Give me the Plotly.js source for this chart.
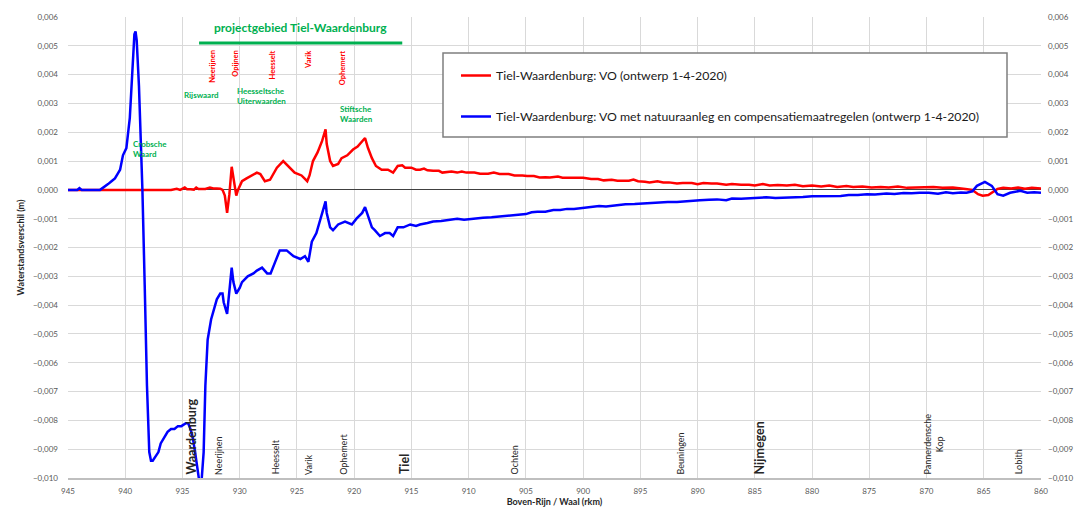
<!DOCTYPE html>
<html>
<head>
<meta charset="utf-8">
<script src="https://cdn.plot.ly/plotly-3.0.1.min.js"></script>
<style>html,body{margin:0;padding:0;background:#fff;}#chart{width:1076px;height:510px;}</style>
</head>
<body>
<div id="chart"></div>
<script>
// ---- data ----
const seriesNames = [
  "Tiel-Waardenburg: VO (ontwerp 1-4-2020)",
  "Tiel-Waardenburg: VO met natuuraanleg en compensatiemaatregelen (ontwerp 1-4-2020)"
];
const redKm = [945,936,935.5,935.2,934.8,934.6,934.3,934.0,933.8,933.6,933.2,933.0,932.6,932.3,932.0,931.7,931.5,931.3,931.1,930.9,930.7,930.5,930.3,930.15,929.8,929.4,928.9,928.5,928.2,927.8,927.35,926.75,926.2,925.8,925.2,924.6,924.1,923.9,923.6,923.2,922.8,922.5,922.4,922.1,921.85,921.4,921.1,920.6,920.1,919.7,919.3,919.05,918.8,918.45,918.1,917.6,917.05,916.6,916.2,915.8,915.55,915.0,914.6,914.25,913.9,913.6,913.1,912.6,912.3,912.0,911.5,911.0,910.6,910.2,909.5,909.0,908.3,907.8,907.3,906.5,906.0,905.3,904.9,904.3,903.8,903.3,902.9,902.2,901.8,901.0,900.0,899.3,898.7,898.2,897.5,897.0,896.0,895.6,895.2,894.6,894.2,893.5,893.0,892.5,891.8,891.3,890.5,890.0,889.5,888.8,888.3,887.5,887.0,886.2,885.5,885.0,884.3,883.7,883.0,882.2,881.5,880.8,880.0,879.2,878.5,877.8,877.0,876.4,875.6,874.8,874.0,873.3,872.5,871.7,871.0,870.3,869.4,868.6,867.7,866.6,866.0,865.5,865.1,864.6,864.3,863.8,863.3,862.6,862.0,861.4,860.8,860.0];
const redVal = [0,0,0.00004,0,0.00008,0.00002,0.00002,0.00001,0.00008,0.00003,0.00003,0.00003,0.00008,0.00005,0.00005,0.00004,0.0,-0.0002,-0.0008,-0.00015,0.0008,0.0003,-0.0002,0.0,0.0003,0.0004,0.0005,0.0006,0.00055,0.0003,0.00035,0.00077,0.001,0.00083,0.0006,0.0005,0.0003,0.0005,0.001,0.0013,0.0017,0.0021,0.0016,0.001,0.00083,0.0009,0.0011,0.0012,0.0014,0.0015,0.0017,0.0018,0.00146,0.0011,0.00083,0.0007,0.0007,0.0006,0.00083,0.00085,0.00077,0.00077,0.0007,0.0007,0.00074,0.00068,0.00066,0.00066,0.0006,0.00062,0.00064,0.0006,0.00064,0.0006,0.0006,0.00056,0.00056,0.0006,0.00055,0.00055,0.0005,0.0005,0.00048,0.00048,0.00043,0.00044,0.00043,0.00046,0.00042,0.00042,0.00042,0.00038,0.00038,0.00033,0.00035,0.00032,0.00032,0.00036,0.0003,0.00028,0.00026,0.0003,0.00026,0.00026,0.00022,0.00024,0.00024,0.0002,0.00024,0.00022,0.00022,0.00018,0.0002,0.00018,0.00018,0.00015,0.0002,0.00015,0.00017,0.00015,0.00018,0.00013,0.00015,0.00012,0.00015,0.0001,0.00013,0.0001,0.00012,0.00008,0.0001,0.00008,0.00012,0.00007,0.00008,0.00007,0.0001,0.00007,0.00008,0.00003,0.0,-0.00015,-0.0002,-0.00018,-0.0001,0.00003,0.00007,0.00005,0.00008,0.00004,0.00007,0.00005];

const blueKm = [945,944.2,944.0,943.8,942.2,941.8,941.5,941.2,940.9,940.6,940.45,940.2,939.9,939.6,939.4,939.2,939.1,939.0,938.8,938.6,938.5,938.3,938.1,937.9,937.75,937.6,937.3,937.1,936.9,936.6,936.3,936.0,935.7,935.4,935.1,934.7,934.5,934.3,934.1,933.9,933.7,933.6,933.5,933.35,933.25,933.15,933.0,932.8,932.5,932.2,932.0,931.7,931.5,931.4,931.1,930.85,930.7,930.55,930.3,930.0,929.8,929.3,928.8,928.5,928.05,927.6,927.3,926.9,926.5,925.9,925.3,924.7,924.3,924.0,923.7,923.3,923.0,922.7,922.5,922.4,922.1,921.85,921.4,920.8,920.2,919.8,919.3,919.05,918.8,918.45,918.2,917.75,917.3,916.9,916.6,916.2,915.7,915.1,914.6,914.25,913.6,913.1,912.4,911.6,911.0,910.4,909.7,908.75,908.0,907.3,906.6,905.8,905.0,904.5,904.0,903.3,902.6,902.0,901.4,900.8,900.0,899.3,898.6,898.0,897.0,896.3,895.5,894.8,894.2,893.4,892.6,891.8,891.3,890.5,889.8,889.0,888.3,887.5,887.0,886.2,885.5,884.8,884.0,883.2,882.2,881.5,880.8,880.0,879.0,878.2,877.5,876.8,876.0,875.2,874.5,873.5,872.8,872.0,871.3,870.6,869.8,869.0,868.3,867.7,867.0,866.5,866.0,865.6,864.9,864.3,863.8,863.3,862.7,861.8,861.2,860.6,860.0];
const blueVal = [0,0,0.00006,0,0,0.0001,0.0002,0.0003,0.0004,0.0006,0.0007,0.0012,0.00145,0.0025,0.0042,0.0054,0.0055,0.0052,0.0036,0.00135,0.0,-0.0033,-0.0068,-0.0091,-0.0094,-0.0094,-0.0092,-0.0091,-0.0088,-0.0086,-0.0084,-0.0083,-0.0083,-0.0082,-0.0082,-0.0081,-0.0081,-0.0083,-0.0086,-0.0091,-0.0096,-0.0099,-0.0102,-0.0102,-0.0095,-0.0091,-0.0068,-0.0052,-0.0045,-0.0041,-0.0038,-0.0036,-0.0036,-0.0039,-0.0043,-0.0033,-0.0027,-0.0032,-0.0036,-0.0034,-0.0032,-0.003,-0.0029,-0.0028,-0.0027,-0.0029,-0.0029,-0.0025,-0.0021,-0.0021,-0.0023,-0.0024,-0.0023,-0.0025,-0.0018,-0.0015,-0.0011,-0.0007,-0.0004,-0.0008,-0.0013,-0.0014,-0.0012,-0.0011,-0.0012,-0.001,-0.0008,-0.0006,-0.0009,-0.0013,-0.0014,-0.0016,-0.0015,-0.0015,-0.0016,-0.0013,-0.0013,-0.0012,-0.00125,-0.0012,-0.00115,-0.0011,-0.00108,-0.00104,-0.001,-0.00104,-0.001,-0.00097,-0.00095,-0.00092,-0.0009,-0.00087,-0.00084,-0.00078,-0.00076,-0.00076,-0.0007,-0.0007,-0.00066,-0.00066,-0.00062,-0.0006,-0.00056,-0.00058,-0.00052,-0.0005,-0.00049,-0.00047,-0.00045,-0.00043,-0.00042,-0.00042,-0.0004,-0.00037,-0.00036,-0.00034,-0.00033,-0.00036,-0.0003,-0.00031,-0.0003,-0.00029,-0.00026,-0.00028,-0.00027,-0.00024,-0.00025,-0.00022,-0.00022,-0.0002,-0.00021,-0.00018,-0.00018,-0.00015,-0.00016,-0.00013,-0.00014,-0.00011,-0.00012,-0.0001,-0.0001,-0.00013,-0.00008,-0.00012,-0.00009,-0.0001,-0.00005,0.00014,0.00028,0.00014,-0.00015,-0.0002,-0.0001,-0.00003,-0.0001,-0.00008,-0.0001];

// project area bar
const projectKm = [933.55, 915.8];
const projectLevel = 0.0051;

// place labels (bottom, black)
const placeLabels = ["<b>Waardenburg</b>","Neerijnen","Heesselt","Varik","Ophemert","<b>Tiel</b>","Ochten","Beuningen","<b>Nijmegen</b>","Pannerdensche<br>Kop","Lobith"];
const placeKm = [934.25,931.9,926.9,924.0,921.0,915.6,906.0,891.45,884.6,869.4,862.0];
const placeSize = [12.5,9,9,9,9,12.5,9,9,12.5,9,9];

// red labels (top)
const redLabels = ["Neerijnen","Opijnen","Heesselt","Varik","Ophemert"];
const redLabelKm = [932.4,930.4,927.1,924.0,921.0];

// green area labels
const greenLabels = ["Rijswaard","Heesseltsche<br>Uiterwaarden","Stiftsche<br>Waarden","Crobsche<br>Waard"];
const greenKm = [933.3,930.4,921.4,939.5];
const greenLevel = [0.00329,0.00327,0.00265,0.00143];
const greenAnchor = ["center","left","left","left"];

const FONT = "Lato, 'Open Sans', sans-serif";

const traces = [
  {x: redKm, y: redVal, type: "scatter", mode: "lines", name: seriesNames[0],
   line: {color: "#ff0000", width: 2.5}, legendgroup: "a"},
  {x: blueKm, y: blueVal, type: "scatter", mode: "lines", name: seriesNames[1],
   line: {color: "#0000ff", width: 2.5}, legendgroup: "b"},
  {x: [945], y: [null], yaxis: "y2", type: "scatter", mode: "lines", showlegend: false, hoverinfo: "skip"}
];

const annotations = [];
annotations.push({x: (projectKm[0]+projectKm[1])/2, y: 0.00565, xref: "x", yref: "y",
  text: "<b>projectgebied Tiel-Waardenburg</b>", showarrow: false,
  font: {family: FONT, size: 12, color: "#00b050"}});
placeLabels.forEach((t,i) => annotations.push({x: placeKm[i], y: -0.00995, xref: "x", yref: "y",
  text: t, showarrow: false, textangle: -90, yanchor: "bottom", xanchor: "center",
  font: {family: FONT, size: placeSize[i], color: "#262626"}}));
redLabels.forEach((t,i) => annotations.push({x: redLabelKm[i], y: 0.00492, xref: "x", yref: "y",
  text: "<b>"+t+"</b>", showarrow: false, textangle: -90, yanchor: "top", xanchor: "center",
  font: {family: FONT, size: 7.5, color: "#ff0000"}}));
greenLabels.forEach((t,i) => annotations.push({x: greenKm[i], y: greenLevel[i], xref: "x", yref: "y",
  text: "<b>"+t+"</b>", showarrow: false, xanchor: greenAnchor[i], align: "left",
  font: {family: FONT, size: 8, color: "#00b050"}}));

const plotLeft = 68, plotRight = 1041, plotTop = 17, plotBottom = 478;
const pw = plotRight - plotLeft, ph = plotBottom - plotTop;
const px = v => (v - plotLeft) / pw;
const py = v => (plotBottom - v) / ph;

const layout = {
  width: 1076, height: 510,
  margin: {l: plotLeft, r: 1076 - plotRight, t: plotTop, b: 510 - plotBottom, pad: 0},
  paper_bgcolor: "#ffffff", plot_bgcolor: "#ffffff",
  separators: ",.",
  font: {family: FONT, color: "#595959", size: 8},
  showlegend: true,
  legend: {x: px(456), y: py(61), xanchor: "left", yanchor: "top", bgcolor: "rgba(0,0,0,0)",
    borderwidth: 0, traceorder: "grouped", tracegroupgap: 22,
    font: {family: FONT, size: 12.3, color: "#1a1a1a"}},
  xaxis: {range: [945, 860], tick0: 860, dtick: 5, showgrid: true, gridcolor: "#d9d9d9", gridwidth: 1,
    zeroline: false, showline: true, linecolor: "#bfbfbf", linewidth: 1.5, ticks: "",
    ticklabelstandoff: 5, tickfont: {size: 8, color: "#595959"},
    title: {text: "<b>Boven-Rijn / Waal (rkm)</b>", standoff: 2, font: {size: 9, color: "#262626"}}},
  yaxis: {range: [-0.010, 0.006], dtick: 0.001, tick0: 0, tickformat: ".3f", showgrid: true,
    gridcolor: "#d9d9d9", gridwidth: 1, zeroline: true, zerolinecolor: "#404040", zerolinewidth: 1,
    showline: false, ticks: "", ticklabelstandoff: 9, tickfont: {size: 8, color: "#595959"},
    title: {text: "<b>Waterstandsverschil (m)</b>", standoff: 6, font: {size: 9, color: "#262626"}}},
  yaxis2: {range: [-0.010, 0.006], dtick: 0.001, tick0: 0, tickformat: ".3f", overlaying: "y", side: "right",
    showgrid: false, zeroline: false, showline: false, ticks: "", ticklabelstandoff: 6,
    tickfont: {size: 8, color: "#595959"}},
  shapes: [
    {type: "line", xref: "x", yref: "y", x0: projectKm[0], x1: projectKm[1], y0: projectLevel, y1: projectLevel,
     line: {color: "#00b050", width: 3}},
    {type: "rect", xref: "paper", yref: "paper", x0: px(443), x1: px(1007), y0: py(137), y1: py(53),
     fillcolor: "#ffffff", line: {color: "#7f7f7f", width: 1.5}, layer: "above"}
  ],
  annotations: annotations
};

Plotly.newPlot("chart", traces, layout, {displayModeBar: false, staticPlot: true});
</script>
</body>
</html>
